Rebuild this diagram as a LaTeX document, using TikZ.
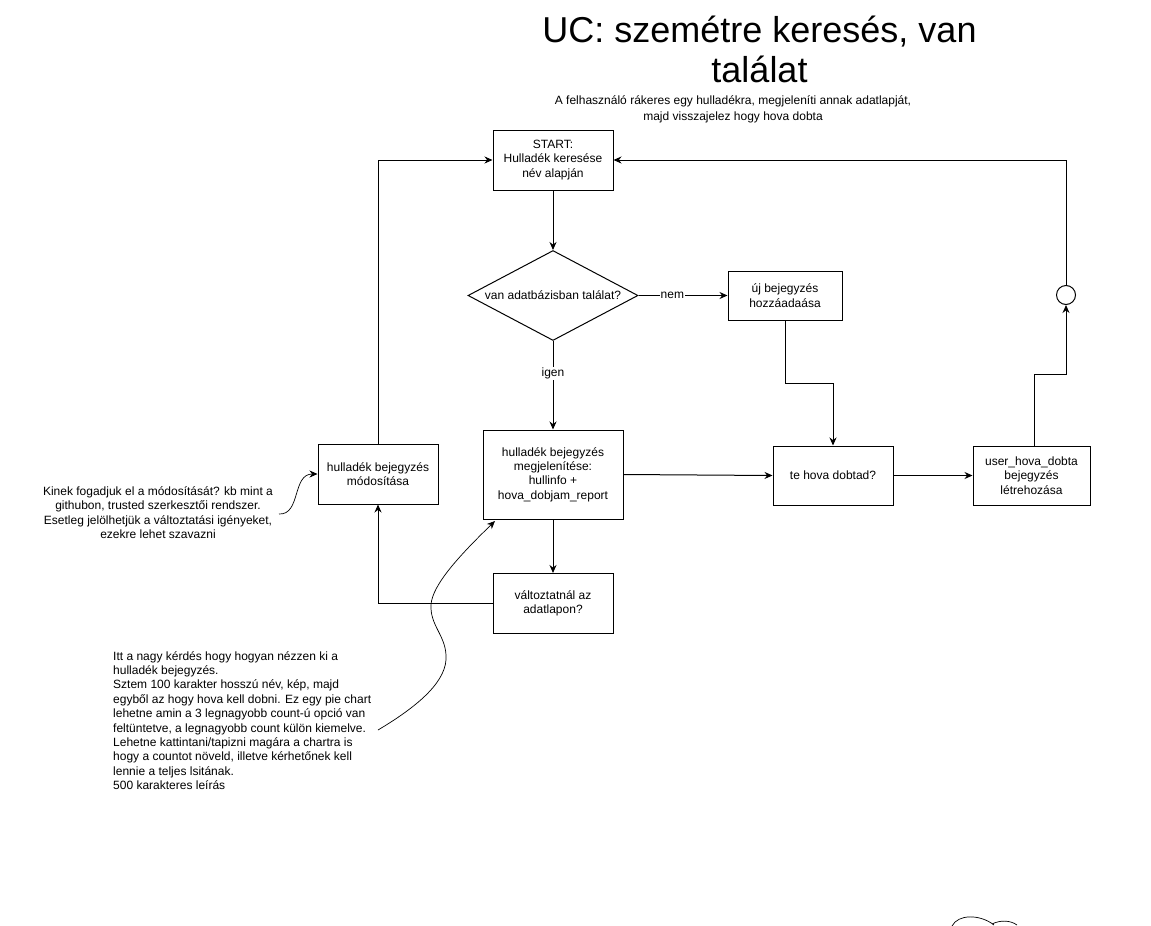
\documentclass[tikz,border=0pt]{standalone}
\usepackage{fontspec}
\setmainfont{Liberation Sans}
\usetikzlibrary{shapes.geometric,arrows.meta}
\tikzset{
  txt/.style={font=\fontsize{12}{14.4}\selectfont, inner sep=0pt},
  box/.style={txt, draw, line width=1pt, align=center, minimum width=120pt, minimum height=60pt},
  dec/.style={txt, draw, line width=1pt, diamond, aspect=1.9, align=center, minimum width=170pt, minimum height=90pt},
  junction/.style={draw, line width=1pt, circle, minimum size=19pt, inner sep=0pt},
  flow/.style={line width=1pt, -{Stealth[length=8pt,width=7pt]}},
  note/.style={line width=0.7pt, -{Stealth[length=8pt,width=7pt]}},
  lbl/.style={txt, fill=white, inner sep=1pt},
}
\begin{document}
\begin{tikzpicture}[x=1pt,y=-1pt]
\useasboundingbox (0,0) rectangle (1151,926);
\fill[white] (0,0) rectangle (1151,926);

% titles
\node[inner sep=0pt, align=center, font=\fontsize{36}{40}\selectfont] (title) at (759.5,49.5) {UC: szemétre keresés, van\\találat};
\node[txt, align=center, font=\fontsize{12}{16}\selectfont] (sub) at (733,109) {A felhasználó rákeres egy hulladékra, megjeleníti annak adatlapját,\\majd visszajelez hogy hova dobta};

% nodes
\node[box] (start) at (553,160) {START:\\Hulladék keresése\\név alapján};
\node[dec] (dia) at (553,295.5) {van adatbázisban találat?};
\node[box, minimum width=114pt, minimum height=49pt] (new) at (785,295.5) {új bejegyzés\\hozzáadaása};
\node[box, minimum width=140pt, minimum height=89pt] (disp) at (553,474.5) {hulladék bejegyzés\\megjelenítése:\\hullinfo +\\hova\_dobjam\_report};
\node[box] (mod) at (378,474) {hulladék bejegyzés\\módosítása};
\node[box] (var) at (553,603.5) {változtatnál az\\adatlapon?};
\node[box, minimum height=59pt] (tehova) at (833,475.5) {te hova dobtad?};
\node[box, minimum width=117pt, minimum height=59pt] (user) at (1031.5,475.5) {user\_hova\_dobta\\bejegyzés\\létrehozása};
\node[junction] (circ) at (1066,295) {};

% notes
\node[txt, align=center] (note1) at (158,512.5) {Kinek fogadjuk el a módosítását? kb mint a\\githubon, trusted szerkesztői rendszer.\\Esetleg jelölhetjük a változtatási igényeket,\\ezekre lehet szavazni};
\node[txt, align=left, anchor=west] (note2) at (113,720.5) {Itt a nagy kérdés hogy hogyan nézzen ki a\\hulladék bejegyzés.\\Sztem 100 karakter hosszú név, kép, majd\\egyből az hogy hova kell dobni. Ez egy pie chart\\lehetne amin a 3 legnagyobb count-ú opció van\\feltüntetve, a legnagyobb count külön kiemelve.\\Lehetne kattintani/tapizni magára a chartra is\\hogy a countot növeld, illetve kérhetőnek kell\\lennie a teljes lsitának.\\500 karakteres leírás};

% connectors
\draw[flow] (start.south) -- (dia.north);
\draw[flow] (dia.east) -- node[lbl, pos=0.38] {nem} (new.west);
\draw[flow] (dia.south) -- node[lbl, pos=0.37] {igen} (disp.north);
\draw[flow] (new.south) -- ++(0,63) -| (tehova.north);
\draw[flow] (disp.east) -- (tehova.west);
\draw[flow] (tehova.east) -- (user.west);
\draw[flow] ([xshift=2.5pt]user.north) -- ++(0,-71) -| (circ.south);
\draw[flow] (circ.north) |- (start.east);
\draw[flow] (disp.south) -- (var.north);
\draw[flow] (var.west) -| (mod.south);
\draw[flow] (mod.north) |- (start.west);

% note connectors
\coordinate (n1s) at (279,514);
\draw[note] (n1s) .. controls (301,515) and (292,474) .. (mod.west);
\coordinate (n2s) at (378,730);
\coordinate (n2a) at (446,655);
\coordinate (n2b) at (431,605);
\coordinate (n2t) at (495,521);
\draw[note] (n2s) .. controls (420,705) and (448,680) .. (n2a)
  .. controls (445,635) and (430,625) .. (n2b)
  .. controls (432,585) and (460,555) .. (n2t);

% partial cloud at the bottom edge
\draw[line width=0.7pt] (952,926) .. controls (958,914) and (980,914) .. (994,925);
\draw[line width=0.7pt] (992,924) .. controls (1000,920) and (1010,920) .. (1017,925);
\end{tikzpicture}
\end{document}
